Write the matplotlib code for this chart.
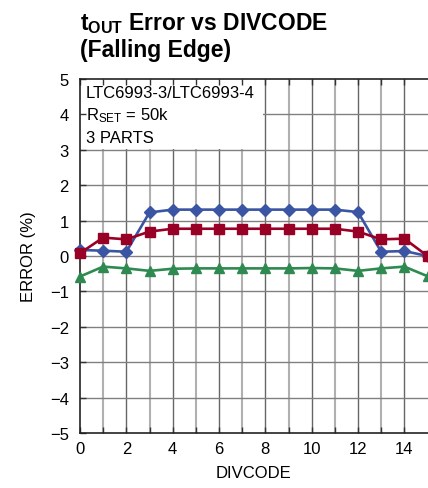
import matplotlib
matplotlib.use("Agg")
import matplotlib.pyplot as plt
from matplotlib.patches import Rectangle

FONT = ["Liberation Sans Narrow", "Liberation Sans", "DejaVu Sans"]

divcode = list(range(16))
part_blue = [0.17, 0.15, 0.12, 1.23, 1.31, 1.31, 1.31, 1.31, 1.31, 1.31, 1.31, 1.31, 1.24, 0.12, 0.14, 0.0]
part_red = [0.08, 0.52, 0.47, 0.69, 0.77, 0.77, 0.77, 0.77, 0.77, 0.77, 0.77, 0.77, 0.69, 0.47, 0.49, 0.0]
part_green = [-0.58, -0.30, -0.35, -0.42, -0.36, -0.35, -0.35, -0.35, -0.35, -0.35, -0.34, -0.35, -0.42, -0.35, -0.30, -0.57]

x_ticks = list(range(0, 15, 2))
y_ticks = list(range(-5, 6))
y_labels = ["\u22125", "\u22124", "\u22123", "\u22122", "\u22121", "0", "1", "2", "3", "4", "5"]

plt.rcParams["font.family"] = FONT
plt.rcParams["mathtext.default"] = "regular"

fig = plt.figure(figsize=(4.28, 4.89), dpi=100)
ax = fig.add_axes([80 / 428, 1 - 434 / 489, 347.5 / 428, 354 / 489])
ax.set_xlim(0, 15)
ax.set_ylim(-5, 5)

# grid drawn by hand so the note box can sit over it but under the ticks
for xv in range(1, 15):
    if xv % 2:
        ax.axvline(xv, color="#b0b0b0", lw=1.5, zorder=0.3)
    else:
        ax.axvline(xv, color="#666666", lw=1.0, zorder=0.3)
for yv in range(-4, 5):
    ax.axhline(yv, color="#808080", lw=1.0, zorder=0.3)

ax.add_patch(Rectangle((0, 3.03), 7.9, 2.0, facecolor="white", edgecolor="none", zorder=1))

ax.plot(divcode, part_blue, color="#3b55a5", lw=1.9, marker="D", ms=6, zorder=3, clip_on=False)
ax.plot(divcode, part_red, color="#990026", lw=1.9, marker="s", ms=6.5, zorder=3, clip_on=False)
ax.plot(divcode, part_green, color="#2e8a50", lw=1.9, marker="^", ms=7.5, zorder=3, clip_on=False)

ax.set_xticks(x_ticks)
ax.set_xticks(range(1, 15, 2), minor=True)
ax.set_yticks(y_ticks)
ax.set_yticklabels(y_labels)
ax.tick_params(axis="both", which="both", direction="in", length=4, width=1.0,
               top=True, labelsize=12, color="#333333")
ax.tick_params(axis="x", pad=6)
ax.tick_params(axis="y", pad=8)

for side in ["left", "top", "bottom"]:
    ax.spines[side].set_linewidth(1.2)
    ax.spines[side].set_color("#222222")
ax.spines["right"].set_visible(False)

ax.set_xlabel("DIVCODE", fontsize=12, labelpad=6)
ax.set_ylabel("ERROR (%)", fontsize=12, labelpad=10)

ax.text(0.25, 4.62, "LTC6993-3/LTC6993-4", fontsize=12, va="center", ha="left", zorder=4)
ax.text(0.25, 3.98, r"R$_{SET}$ = 50k", fontsize=12, va="center", ha="left", zorder=4)
ax.text(0.25, 3.36, "3 PARTS", fontsize=12, va="center", ha="left", zorder=4)

fig.text(80 / 428, 1 - 30 / 489, r"t$_{OUT}$ Error vs DIVCODE", fontsize=16.5,
         fontweight="bold", ha="left", va="baseline")
fig.text(80 / 428, 1 - 57 / 489, "(Falling Edge)", fontsize=16.5,
         fontweight="bold", ha="left", va="baseline")

fig.savefig("out.png", dpi=100)
